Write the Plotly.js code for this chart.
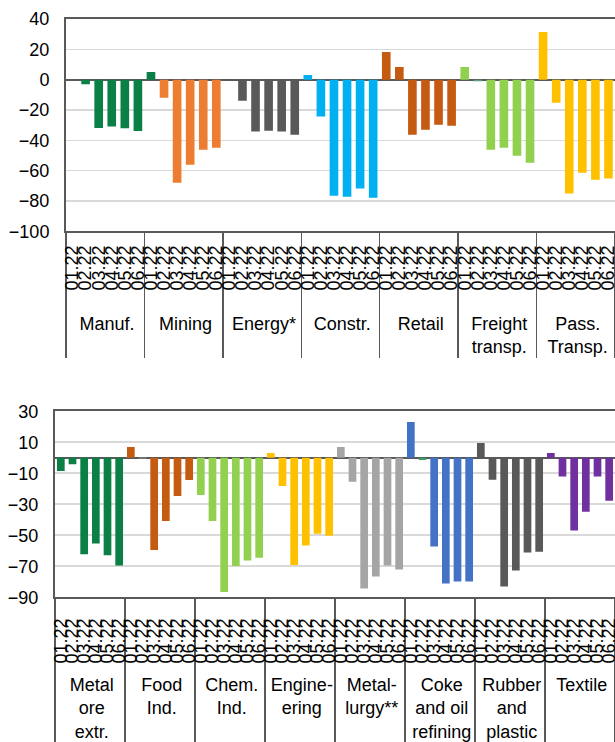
<!DOCTYPE html>
<html>
<head>
<meta charset="utf-8">
<script src="https://cdn.plot.ly/plotly-3.0.1.min.js"></script>
<style>
html,body{margin:0;padding:0;background:#fff;}
#chart{width:615px;height:742px;}
</style>
</head>
<body>
<div id="chart"></div>
<script>
// ---- data ----
const months = ['01.22','02.22','03.22','04.22','05.22','06.22'];

// top panel
const topGroups = ['Manuf.','Mining','Energy*','Constr.','Retail','Freight<br>transp.','Pass.<br>Transp.'];
const manuf   = [0, -3.1, -31.9, -31.0, -32.1, -33.9];
const mining  = [5.1, -11.9, -68.0, -56.1, -46.2, -44.9];
const energy  = [-0.3, -13.9, -34.3, -33.7, -34.3, -36.3];
const constr  = [3.1, -24.4, -76.6, -77.2, -71.9, -77.9];
const retail  = [18.3, 8.4, -36.3, -33.0, -29.7, -30.4];
const freight = [8.4, -1.1, -46.2, -44.9, -50.2, -54.8];
const pass    = [31.5, -15.2, -75.2, -61.4, -66.0, -65.3];
const topSeries = [manuf, mining, energy, constr, retail, freight, pass];

// bottom panel
const botGroups = ['Metal<br>ore<br>extr.','Food<br>Ind.','Chem.<br>Ind.','Engine-<br>ering','Metal-<br>lurgy**','Coke<br>and oil<br>refining','Rubber<br>and<br>plastic','Textile'];
const metalOre    = [-8.6, -4.3, -62.3, -55.4, -62.9, -69.6];
const foodInd     = [6.9, -0.3, -59.5, -40.8, -24.7, -14.4];
const chemInd     = [-24.1, -40.8, -86.6, -69.8, -66.4, -64.6];
const engineering = [3.0, -18.3, -69.2, -56.7, -49.0, -50.3];
const metallurgy  = [6.9, -15.5, -84.4, -76.7, -69.6, -72.2];
const coke        = [23.0, -1.5, -57.3, -81.2, -79.9, -79.9];
const rubber      = [9.5, -14.2, -83.1, -72.8, -61.2, -60.6];
const textile     = [3.0, -12.2, -47.0, -34.8, -12.2, -27.7];
const botSeries = [metalOre, foodInd, chemInd, engineering, metallurgy, coke, rubber, textile];

// ---- styles ----
const topColors = ['#0A7F46','#ED7D31','#595959','#00B0F0','#C55A11','#92D050','#FFC000'];
const botColors = ['#0A7F46','#C55A11','#92D050','#FFC000','#A5A5A5','#4472C4','#595959','#7030A0'];
// individual bar colour exceptions: [group index, month index, colour]
const topOverrides = [[1,0,'#0A7F46'],[5,1,'#5E9E80']];
const botOverrides = [[1,1,'#B9CDB9'],[5,1,'#3E9A6A']];

const NB = '\u00a0';
// group labels get a little left padding so that they sit centred under their group
// (Plotly shifts secondary labels left when primary labels are rotated);
// month labels get leading padding to push the group labels further down.
function padLabel(s, n){ return s.split('<br>').map(l => NB.repeat(n) + l).join('<br>'); }

function build(groups, series, colors, overrides, monthPad){
  const g=[], m=[], y=[], c=[];
  groups.forEach((name,i)=>{
    const lab = padLabel(name, 2);
    months.forEach((mo,j)=>{
      g.push(lab); m.push(NB.repeat(monthPad) + mo); y.push(series[i][j]);
      let col = colors[i];
      overrides.forEach(o=>{ if(o[0]===i && o[1]===j) col=o[2]; });
      c.push(col);
    });
  });
  return {g,m,y,c};
}
const T = build(topGroups, topSeries, topColors, topOverrides, 2);
const B = build(botGroups, botSeries, botColors, botOverrides, 1);

const FONT = 'Liberation Sans, Arial, sans-serif';
const H = 742;

const traces = [
  {type:'bar', x:[T.g,T.m], y:T.y, marker:{color:T.c, line:{width:0}}, xaxis:'x', yaxis:'y', hoverinfo:'x+y'},
  {type:'bar', x:[B.g,B.m], y:B.y, marker:{color:B.c, line:{width:0}}, xaxis:'x2', yaxis:'y2', hoverinfo:'x+y'}
];

const xCommon = {
  type:'multicategory', tickangle:-90,
  tickmode:'linear', tick0:0, dtick:1,
  tickfont:{family:FONT, size:18, color:'#000'},
  showline:true, linecolor:'#595959', linewidth:2, mirror:true,
  showgrid:false, ticks:'', showdividers:true, dividercolor:'#595959', dividerwidth:1.5,
  automargin:false, fixedrange:true
};
const yCommon = {
  tickfont:{family:FONT, size:18, color:'#000'},
  showline:true, linecolor:'#595959', linewidth:2,
  showgrid:true, gridcolor:'#D9D9D9', gridwidth:1.5,
  zeroline:true, zerolinecolor:'#595959', zerolinewidth:2,
  ticks:'', ticklabelstandoff:11, automargin:false, fixedrange:true
};

const layout = {
  width:615, height:742,
  margin:{l:0,r:0,t:0,b:0},
  paper_bgcolor:'#fff', plot_bgcolor:'#fff',
  showlegend:false, bargap:0.34,
  font:{family:FONT, color:'#000'},
  xaxis: Object.assign({}, xCommon, {domain:[66/615, 1], anchor:'y', ticklabelstandoff:5}),
  yaxis: Object.assign({}, yCommon, {domain:[(H-231.2)/H, (H-19)/H], range:[-100,40], tick0:0, dtick:20, anchor:'x'}),
  xaxis2: Object.assign({}, xCommon, {domain:[55/615, 1], anchor:'y2', ticklabelstandoff:12}),
  yaxis2: Object.assign({}, yCommon, {domain:[(H-597.2)/H, (H-411.2)/H], range:[-90,30], tick0:10, dtick:20, anchor:'x2'})
};

Plotly.newPlot('chart', traces, layout, {displayModeBar:false, staticPlot:true});
</script>
</body>
</html>
